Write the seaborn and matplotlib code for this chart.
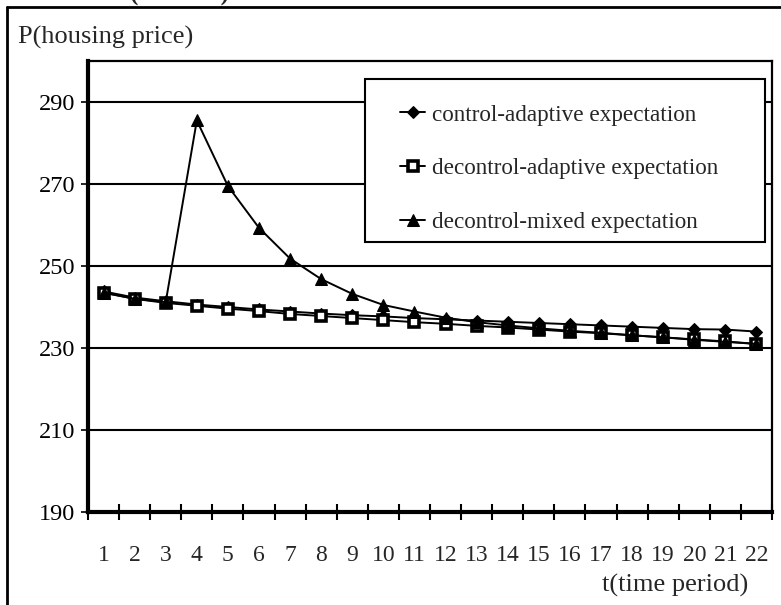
import pandas as pd
import matplotlib
matplotlib.use('Agg')
import matplotlib.pyplot as plt
from matplotlib.lines import Line2D
from matplotlib.patches import Rectangle
import seaborn as sns

# ==========================================
# Data
# ==========================================
periods = list(range(1, 23))

control_adaptive = [243.8, 242.3, 241.4, 240.6, 240.0, 239.4, 238.9, 238.4, 238.0, 237.7, 237.3,
                    237.0, 236.7, 236.4, 236.1, 235.8, 235.5, 235.2, 234.9, 234.6, 234.5, 234.0]
decontrol_adaptive = [243.5, 242.0, 241.0, 240.3, 239.6, 239.0, 238.3, 237.8, 237.3, 236.8, 236.3,
                      235.9, 235.4, 235.0, 234.5, 234.0, 233.6, 233.1, 232.6, 232.1, 231.6, 231.0]
decontrol_mixed = [243.5, 242.0, 241.2, 285.5, 269.5, 259.3, 251.8, 246.8, 243.2, 240.5, 238.9,
                   237.4, 236.3, 235.5, 234.8, 234.2, 233.7, 233.1, 232.6, 232.0, 231.5, 231.0]

series_names = ['control-adaptive expectation',
                'decontrol-adaptive expectation',
                'decontrol-mixed expectation']
ytick_values = [190, 210, 230, 250, 270, 290]

# ==========================================
# Plot
# ==========================================
sns.set_style('white')
plt.rcParams['font.family'] = ['Liberation Serif', 'DejaVu Serif']

fig = plt.figure(figsize=(7.81, 6.05), dpi=100)
ax = fig.add_axes([88 / 781, 93 / 605, 684 / 781, 451 / 605])

df = pd.DataFrame({'t': periods, 'ca': control_adaptive,
                   'da': decontrol_adaptive, 'dm': decontrol_mixed})

sns.lineplot(data=df, x='t', y='ca', ax=ax, color='black', lw=1.4,
             marker='D', markersize=6, markerfacecolor='black', markeredgecolor='black',
             label=series_names[0])
sns.lineplot(data=df, x='t', y='da', ax=ax, color='black', lw=1.4,
             marker='s', markersize=7, markerfacecolor='white', markeredgecolor='black',
             markeredgewidth=2.6, label=series_names[1])
sns.lineplot(data=df, x='t', y='dm', ax=ax, color='black', lw=1.4,
             marker='^', markersize=8, markerfacecolor='black', markeredgecolor='black',
             label=series_names[2])

ax.set_xlim(0.5, 22.5)
ax.set_ylim(190, 300)
ax.set_xlabel('')
ax.set_ylabel('')

# horizontal gridlines
for v in ytick_values[1:]:
    ax.axhline(v, color='black', lw=1.5, zorder=0)

for side in ['left', 'bottom']:
    ax.spines[side].set_linewidth(3)
    ax.spines[side].set_color('black')
for side in ['top', 'right']:
    ax.spines[side].set_linewidth(1.6)
    ax.spines[side].set_color('black')

ax.set_yticks(ytick_values)
ax.set_yticklabels([str(v) for v in ytick_values])
ax.tick_params(axis='y', direction='out', length=5, width=1.2, pad=4,
               labelsize=17.5, left=True, colors='black')

ax.set_xticks(periods)
ax.set_xticklabels([str(p) for p in periods])
ax.set_xticks([p + 0.5 for p in range(0, 23)], minor=True)
ax.tick_params(axis='x', which='major', length=0, pad=24, labelsize=17)
ax.tick_params(axis='x', which='minor', direction='inout', length=12, width=1.5,
               bottom=True, color='black')

# legend: wide white box with the entries inset from its left edge
ax.add_patch(Rectangle((0.405, 0.599), 0.585, 0.362, transform=ax.transAxes,
                       facecolor='white', edgecolor='black', lw=1.5, zorder=4))
leg = ax.legend(loc='upper left', bbox_to_anchor=(0.456, 0.904), fontsize=16.7,
                frameon=False, handlelength=1.1, handletextpad=0.3, labelspacing=1.4,
                borderpad=0, borderaxespad=0)
leg.set_zorder(5)

# axis titles and figure frame
fig.text(18 / 781, 1 - 37 / 605, 'P(housing price)', fontsize=19, va='center', ha='left')
fig.text(675 / 781, 1 - 585 / 605, 't(time period)', fontsize=19, va='center', ha='center')
fig.text(180 / 781, 1 - 6 / 605, '(w =0.01)', fontsize=18, fontweight='bold',
         va='bottom', ha='center')
fig.add_artist(Line2D([7 / 781, 1], [1 - 7 / 605, 1 - 7 / 605], color='black', lw=2,
                      transform=fig.transFigure))
fig.add_artist(Line2D([7 / 781, 7 / 781], [0, 1 - 7 / 605], color='black', lw=2,
                      transform=fig.transFigure))

plt.savefig('out.png', dpi=100)
